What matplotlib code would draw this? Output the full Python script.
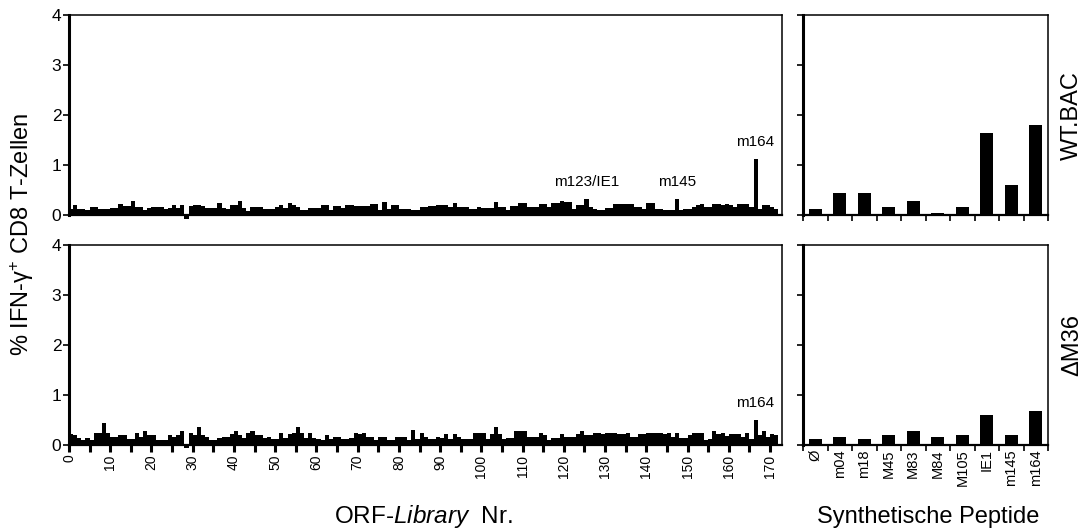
import numpy as np
import matplotlib
matplotlib.use("Agg")
import matplotlib.pyplot as plt

plt.rcParams["font.family"] = ["Liberation Sans", "DejaVu Sans"]
plt.rcParams["mathtext.fontset"] = "custom"
plt.rcParams["mathtext.rm"] = "Liberation Sans"
plt.rcParams["mathtext.it"] = "Liberation Sans:italic"

# ORF library screen, % IFN-gamma+ CD8 T cells per ORF (1..172)
orf_nr = np.arange(1, 173)
orf_wt = [
    0.12, 0.2, 0.13, 0.13, 0.1, 0.17, 0.17, 0.12, 0.12, 0.13,
    0.15, 0.15, 0.22, 0.18, 0.18, 0.28, 0.16, 0.17, 0.1, 0.15,
    0.16, 0.16, 0.17, 0.13, 0.14, 0.2, 0.15, 0.2, -0.07, 0.18,
    0.21, 0.21, 0.18, 0.14, 0.14, 0.14, 0.25, 0.14, 0.13, 0.2,
    0.2, 0.28, 0.15, 0.09, 0.16, 0.16, 0.16, 0.13, 0.13, 0.13,
    0.16, 0.2, 0.15, 0.25, 0.2, 0.16, 0.11, 0.11, 0.15, 0.15,
    0.15, 0.21, 0.21, 0.11, 0.18, 0.18, 0.15, 0.2, 0.2, 0.18,
    0.18, 0.18, 0.18, 0.23, 0.23, 0.1, 0.27, 0.13, 0.2, 0.2,
    0.13, 0.13, 0.13, 0.1, 0.1, 0.17, 0.17, 0.18, 0.18, 0.2,
    0.2, 0.2, 0.17, 0.25, 0.17, 0.17, 0.17, 0.13, 0.13, 0.17,
    0.15, 0.15, 0.15, 0.27, 0.17, 0.17, 0.1, 0.18, 0.18, 0.25,
    0.25, 0.17, 0.17, 0.17, 0.22, 0.22, 0.17, 0.25, 0.25, 0.29,
    0.27, 0.27, 0.13, 0.2, 0.2, 0.33, 0.17, 0.12, 0.11, 0.11,
    0.15, 0.15, 0.22, 0.22, 0.22, 0.22, 0.22, 0.17, 0.17, 0.13,
    0.25, 0.25, 0.13, 0.13, 0.1, 0.1, 0.1, 0.33,
    0.1, 0.13, 0.13, 0.17, 0.2, 0.22, 0.17, 0.17, 0.22, 0.22, 0.2, 0.22,
    0.2, 0.17, 0.22, 0.22, 0.22, 0.17, 1.13, 0.13, 0.2, 0.2, 0.17, 0.13,
]
orf_dm36 = [
    0.23, 0.2, 0.14, 0.11, 0.15, 0.11, 0.25, 0.25, 0.45, 0.25,
    0.17, 0.17, 0.2, 0.2, 0.13, 0.13, 0.25, 0.17, 0.28, 0.21,
    0.21, 0.11, 0.11, 0.11, 0.2, 0.17, 0.2, 0.28, -0.05, 0.25,
    0.2, 0.37, 0.2, 0.17, 0.11, 0.11, 0.15, 0.17, 0.17, 0.22,
    0.28, 0.2, 0.15, 0.25, 0.28, 0.2, 0.2, 0.15, 0.17, 0.13,
    0.13, 0.25, 0.15, 0.23, 0.25, 0.37, 0.25, 0.15, 0.25, 0.15,
    0.13, 0.11, 0.2, 0.13, 0.17, 0.17, 0.13, 0.13, 0.15, 0.25,
    0.22, 0.25, 0.17, 0.17, 0.1, 0.17, 0.17, 0.11, 0.11, 0.17,
    0.17, 0.17, 0.11, 0.3, 0.13, 0.25, 0.17, 0.13, 0.13, 0.17,
    0.15, 0.22, 0.13, 0.22, 0.17, 0.13, 0.13, 0.13, 0.24, 0.25,
    0.25, 0.13, 0.22, 0.37, 0.22, 0.13, 0.15, 0.15, 0.29, 0.29,
    0.29, 0.17, 0.17, 0.17, 0.25, 0.2, 0.11, 0.15, 0.15, 0.22,
    0.17, 0.17, 0.17, 0.22, 0.29, 0.2, 0.2, 0.25, 0.25, 0.22,
    0.25, 0.25, 0.25, 0.22, 0.22, 0.25, 0.17, 0.17, 0.22, 0.22,
    0.25, 0.25, 0.25, 0.25, 0.22, 0.25, 0.17, 0.25,
    0.15, 0.15, 0.2, 0.25, 0.25, 0.25, 0.1, 0.13, 0.29, 0.22, 0.25, 0.18,
    0.22, 0.22, 0.22, 0.17, 0.25, 0.13, 0.5, 0.2, 0.29, 0.17, 0.22, 0.2,
]
orf_labels_wt = {126: "m123/IE1", 148: "m145", 167: "m164"}
orf_labels_dm36 = {167: "m164"}

# synthetic peptide restimulation
peptides = ["Ø", "m04", "m18", "M45", "M83", "M84", "M105", "IE1", "m145", "m164"]
pep_wt = [0.13, 0.45, 0.45, 0.17, 0.29, 0.05, 0.17, 1.65, 0.61, 1.81]
pep_dm36 = [0.13, 0.17, 0.13, 0.21, 0.29, 0.17, 0.21, 0.61, 0.21, 0.69]

W, H = 1090, 529
fig = plt.figure(figsize=(W / 100, H / 100), dpi=100)


def px_axes(x0, y0, x1, y1):
    return fig.add_axes([x0 / W, 1 - y1 / H, (x1 - x0) / W, (y1 - y0) / H])


def style(ax):
    for side in ["top", "right"]:
        ax.spines[side].set_linewidth(1.1)
    ax.spines["left"].set_linewidth(2.2)
    ax.spines["bottom"].set_linewidth(1.6)
    ax.set_ylim(0, 4)
    ax.set_yticks([0, 1, 2, 3, 4])
    ax.tick_params(axis="y", direction="out", length=4, width=1.2, pad=1.5,
                   labelsize=12.5)


def orf_panel(ax, values, labels, show_x):
    style(ax)
    bars = ax.bar(orf_nr - 0.5, values, width=1.0, color="black",
                  linewidth=0, align="center")
    for b in bars:
        b.set_clip_on(False)
    ax.set_xlim(0, 172.9)
    for nr, txt in labels.items():
        ax.text(nr - 0.5, values[nr - 1] + 0.2, txt, ha="center",
                va="bottom", fontsize=11)
    if show_x:
        ticks = np.arange(0, 171, 5)
        ax.set_xticks(ticks)
        ax.set_xticklabels([str(v) if v % 10 == 0 else "" for v in ticks],
                           rotation=90, fontsize=10)
        ax.tick_params(axis="x", direction="out", length=5, width=2.2, pad=2)
    else:
        ax.set_xticks([])


def pep_panel(ax, values, show_x):
    style(ax)
    pos = np.arange(len(peptides))
    ax.bar(pos, values, width=0.55, color="black", linewidth=0)
    ax.set_xlim(-0.5, len(peptides) - 0.5)
    ax.set_yticklabels([])
    ax.set_xticks(np.arange(-0.5, len(peptides)))
    ax.set_xticklabels([])
    ax.tick_params(axis="x", which="major", direction="out", length=4,
                   width=1.2)
    if show_x:
        ax.set_xticks(pos, minor=True)
        ax.set_xticklabels(peptides, minor=True, rotation=90, fontsize=10.5)
        ax.tick_params(axis="x", which="minor", length=0, pad=3)


ax_wt = px_axes(69, 15, 782, 215)
ax_dm = px_axes(69, 245, 782, 445)
ax_pwt = px_axes(803, 15, 1048, 215)
ax_pdm = px_axes(803, 245, 1048, 445)

orf_panel(ax_wt, orf_wt, orf_labels_wt, False)
orf_panel(ax_dm, orf_dm36, orf_labels_dm36, True)
pep_panel(ax_pwt, pep_wt, False)
pep_panel(ax_pdm, pep_dm36, True)

fig.text(22 / W, 1 - 234 / H, "% IFN-γ$^{+}$ CD8 T-Zellen", rotation=90,
         ha="center", va="center", fontsize=17)
fig.text(423 / W, 1 - 523 / H, r"ORF-$\mathit{Library}$  Nr.", ha="center",
         va="baseline", fontsize=17.5)
fig.text(928 / W, 1 - 523 / H, "Synthetische Peptide", ha="center",
         va="baseline", fontsize=17)
fig.text(1072 / W, 1 - 116 / H, "WT.BAC", rotation=90, ha="center",
         va="center", fontsize=17)
fig.text(1072 / W, 1 - 345 / H, "ΔM36", rotation=90, ha="center",
         va="center", fontsize=17)

fig.savefig("out.png", dpi=100)
